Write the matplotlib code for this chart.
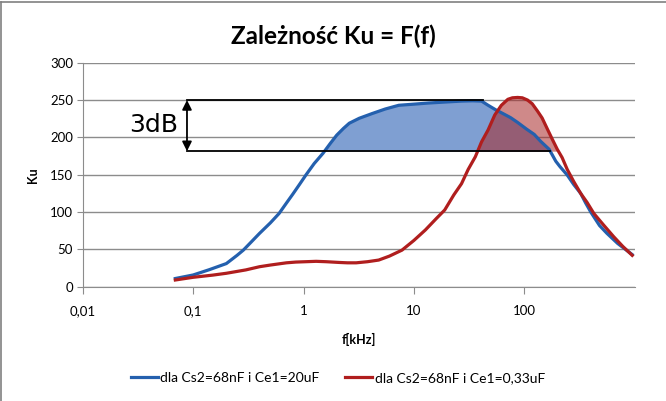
import numpy as np
import matplotlib.pyplot as plt
from matplotlib.lines import Line2D

plt.rcParams['font.family'] = ['Lato', 'DejaVu Sans']

# dane
blue_f = [0.069, 0.1, 0.14, 0.2, 0.25, 0.285, 0.33, 0.4, 0.5, 0.6, 0.7, 0.8, 0.92,
          1.05, 1.25, 1.5, 1.75, 2.0, 2.3, 2.6, 3.2, 4.2, 5.5, 7.3, 10, 13.5, 20,
          27, 34, 41, 47, 55, 62, 75, 87, 105, 123, 140, 168, 193, 210, 245, 280,
          324, 360, 400, 480, 560, 700, 950]
blue_ku = [11, 15.7, 22.8, 31, 42, 49, 58.7, 71.5, 85.4, 98, 112, 124, 137,
           149.5, 165, 178.6, 192, 203, 212, 219, 225.6, 232, 238, 243, 244.5, 246, 247.5,
           248.6, 249, 248.6, 243, 237, 233, 226.5, 220, 211, 204, 195, 184, 168, 161, 149.5, 137,
           125, 112, 100, 82, 71.5, 58, 43]

red_f = [0.069, 0.1, 0.15, 0.2, 0.3, 0.4, 0.5, 0.7, 0.85, 1.05, 1.3, 1.6, 2.1, 2.5,
         3.0, 3.8, 4.8, 6, 7.8, 10, 12.7, 16, 19, 23, 27, 31, 36, 41, 47, 54, 62,
         71, 78, 87, 96, 107, 118, 132, 145, 162, 180, 199, 220, 245, 280, 324, 370,
         427, 520, 645, 780, 950]
red_ku = [9, 12.6, 15.5, 18, 22.5, 26.8, 29, 32, 33, 33.5, 34, 33.5, 32.5, 32,
          32, 33.5, 35.7, 41, 49, 62, 76, 91.5, 102.7, 123, 138, 157, 174, 194, 210, 230, 243,
          251, 253, 253.5, 253, 250, 245, 235, 226, 211, 197, 184, 173, 157, 141, 125, 113,
          98, 83, 67, 54, 42]

level_3db = 181.5
level_max = 250
arrow_f = 0.088
top_end_f = 42
low_end_f = 172

x_ticks = [0.01, 0.1, 1, 10, 100]
x_labels = ['0,01', '0,1', '1', '10', '100']
y_ticks = [0, 50, 100, 150, 200, 250, 300]

blue = '#2460ae'
red = '#b01e1e'
grid_col = '#8c8c8c'

fig = plt.figure(figsize=(6.66, 4.01), dpi=100)
ax = fig.add_axes([0.1242, 0.285, 0.8288, 0.5586])

bf = np.array(blue_f)
bk = np.array(blue_ku)
rf = np.array(red_f)
rk = np.array(red_ku)

# wypełnienia pod krzywymi powyżej poziomu -3dB
ax.fill_between(bf, bk, level_3db, where=bk >= level_3db, interpolate=True,
                color='#7f9fd2', lw=0, zorder=2)
ax.fill_between(rf, rk, level_3db, where=rk >= level_3db, interpolate=True,
                color='#a82828', alpha=0.55, lw=0, zorder=3)

ax.plot(bf, bk, color=blue, lw=2.3, zorder=5, solid_joinstyle='round')
ax.plot(rf, rk, color=red, lw=2.3, zorder=6, solid_joinstyle='round')

# linie pomocnicze 3dB
ax.plot([arrow_f, top_end_f], [level_max, level_max], color='black', lw=1.3, zorder=7)
ax.plot([arrow_f, low_end_f], [level_3db, level_3db], color='black', lw=1.3, zorder=7)
ax.annotate('', xy=(arrow_f, level_max), xytext=(arrow_f, level_3db),
            arrowprops=dict(arrowstyle='<|-|>', color='black', lw=1.3,
                            mutation_scale=14, shrinkA=0, shrinkB=0), zorder=8)
ax.text(0.0738, 216, '3dB', fontsize=18, ha='right', va='center',
        family=['DejaVu Sans'], zorder=8)

ax.set_xscale('log')
ax.set_xlim(0.01, 1000)
ax.set_ylim(0, 300)
ax.set_xticks(x_ticks)
ax.set_xticklabels(x_labels)
ax.minorticks_off()
ax.set_yticks(y_ticks)
ax.yaxis.grid(True, color=grid_col, lw=1)
ax.set_axisbelow(True)
for s in ['top', 'right']:
    ax.spines[s].set_visible(False)
for s in ['left', 'bottom']:
    ax.spines[s].set_color(grid_col)
ax.tick_params(axis='x', length=5, color=grid_col, pad=8, labelsize=9.5)
ax.tick_params(axis='y', length=4, color=grid_col, pad=3, labelsize=9.5)

ax.set_xlabel('f[kHz]', fontsize=9, fontweight='bold', labelpad=12)
ax.set_ylabel('Ku', fontsize=9, fontweight='bold', labelpad=8)

fig.suptitle('Zależność Ku = F(f)', fontsize=17.5, fontweight='bold', y=0.94)

handles = [Line2D([], [], color=blue, lw=2.3), Line2D([], [], color=red, lw=2.3)]
fig.legend(handles, ['dla Cs2=68nF i Ce1=20uF', 'dla Cs2=68nF i Ce1=0,33uF'],
           loc='center', bbox_to_anchor=(0.507, 1 - 378 / 401), ncol=2,
           frameon=False, fontsize=10, handlelength=2.0, handletextpad=0.15,
           columnspacing=1.8)

# ramka wykresu
fig.add_artist(Line2D([0.002, 0.002], [0, 0.995], color='#808080', lw=1.2))
fig.add_artist(Line2D([0.002, 1], [0.995, 0.995], color='#808080', lw=1.2))

fig.savefig('out.png', dpi=100)
